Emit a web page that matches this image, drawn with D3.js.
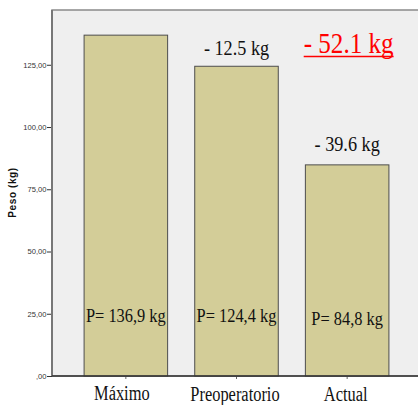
<!DOCTYPE html>
<html><head><meta charset="utf-8">
<script src="https://cdn.jsdelivr.net/npm/d3@7"></script>
<style>body{margin:0;background:#fff}svg{display:block}</style>
</head><body>
<script>
const categories = ["Máximo", "Preoperatorio", "Actual"];
const values = [136.9, 124.4, 84.8];
const valueLabels = ["P= 136,9 kg", "P= 124,4 kg", "P= 84,8 kg"];
const diffLabels = ["", "- 12.5 kg", "- 39.6 kg"];
const totalLabel = "- 52.1 kg";
const yTicks = [0, 25, 50, 75, 100, 125];
const yTickLabels = [",00", "25,00", "50,00", "75,00", "100,00", "125,00"];
const yTitle = "Peso (kg)";

const W = 418, H = 405;
const svg = d3.select("body").append("svg").attr("width", W).attr("height", H);
const L = 52, R = 421, T = 10, B = 376;

const x = d3.scaleBand().domain(categories).range([L, R]).paddingInner(0.245).paddingOuter(0.29);
const y = d3.scaleLinear().domain([0, 147]).range([B, T]);

svg.append("rect").attr("x", L).attr("y", T).attr("width", R - L + 5).attr("height", B - T)
  .attr("fill", "#efefef").attr("stroke", "#8a8a8a").attr("stroke-width", 1.5);

function squeeze(sel, f) {
  sel.each(function(){ const n = this; const w = n.getComputedTextLength(); if (w > 0) { n.setAttribute("textLength", w * f); n.setAttribute("lengthAdjust", "spacingAndGlyphs"); } });
}

svg.selectAll("rect.bar").data(values).enter().append("rect").attr("class", "bar")
  .attr("x", (d, i) => x(categories[i]))
  .attr("y", d => y(d))
  .attr("width", x.bandwidth())
  .attr("height", d => y(0) - y(d))
  .attr("fill", "#d3cd98").attr("stroke", "#4d4d4d").attr("stroke-width", 1);

// y axis
const yAxis = d3.axisLeft(y).tickValues(yTicks).tickSize(5).tickFormat((d, i) => yTickLabels[i]);
const ga = svg.append("g").attr("transform", `translate(${L},0)`).call(yAxis);
ga.select(".domain").remove();
ga.selectAll(".tick line").attr("stroke", "#333");
ga.selectAll(".tick text").attr("font-family", "Liberation Sans, Arial, sans-serif").attr("font-size", 7.6).attr("fill", "#333").attr("x", -5.5);
svg.append("line").attr("x1", L).attr("x2", L).attr("y1", T).attr("y2", B).attr("stroke", "#777").attr("stroke-width", 2);

// x axis
const xAxis = d3.axisBottom(x).tickSize(3).tickFormat("");
const gx = svg.append("g").attr("transform", `translate(0,${B})`).call(xAxis);
gx.select(".domain").remove();
gx.selectAll(".tick line").attr("stroke", "#666");
svg.append("line").attr("x1", L).attr("x2", W).attr("y1", B).attr("y2", B).attr("stroke", "#333").attr("stroke-width", 1.5);

const xl = svg.selectAll("text.xl").data(categories).enter().append("text").attr("class", "xl")
  .attr("x", (d, i) => x(d) + x.bandwidth() / 2 - (i === 0 ? 4 : 1.5))
  .attr("y", (d, i) => [399.5, 400.5, 401].i === undefined ? [399.5, 400.5, 400.5][i] : 400).attr("text-anchor", "middle")
  .attr("font-family", "Liberation Serif, Times New Roman, serif").attr("font-size", 20).attr("fill", "#111")
  .text(d => d);
squeeze(xl, 0.82);

// y title
svg.append("text").attr("transform", "translate(15.5,192.5) rotate(-90)").attr("text-anchor", "middle")
  .attr("font-family", "Liberation Sans, Arial, sans-serif").attr("font-weight", "bold").attr("font-size", 10)
  .attr("letter-spacing", 0.6).attr("fill", "#111")
  .text(yTitle);

// value labels inside bars
const vl = svg.selectAll("text.vl").data(valueLabels).enter().append("text").attr("class", "vl")
  .attr("x", (d, i) => x(categories[i]) + x.bandwidth() / 2)
  .attr("y", (d, i) => y(25) + (i === 2 ? 11 : 8)).attr("text-anchor", "middle")
  .attr("font-family", "Liberation Serif, Times New Roman, serif").attr("font-size", 18).attr("fill", "#111")
  .text(d => d);
squeeze(vl, 0.91);

// difference labels above bars
const dl = svg.selectAll("text.dl").data(diffLabels).enter().append("text").attr("class", "dl")
  .attr("x", (d, i) => x(categories[i]) + x.bandwidth() / 2)
  .attr("y", (d, i) => y(values[i]) - (i === 2 ? 14 : 11.5)).attr("text-anchor", "middle")
  .attr("font-family", "Liberation Serif, Times New Roman, serif").attr("font-size", 20).attr("fill", "#111")
  .text(d => d);
squeeze(dl, 0.91);

// total label
const tl = svg.append("text").attr("x", x("Actual") + x.bandwidth() / 2 + 1.5).attr("y", 53).attr("text-anchor", "middle")
  .attr("font-family", "Liberation Serif, Times New Roman, serif").attr("font-size", 29).attr("fill", "#ff0000")
  .text(totalLabel);
squeeze(tl, 0.865);
const bb = tl.node().getBBox();
svg.append("line").attr("x1", bb.x).attr("x2", bb.x + bb.width).attr("y1", 56.5).attr("y2", 56.5).attr("stroke", "#ff0000").attr("stroke-width", 1.3);
</script>
</body></html>
